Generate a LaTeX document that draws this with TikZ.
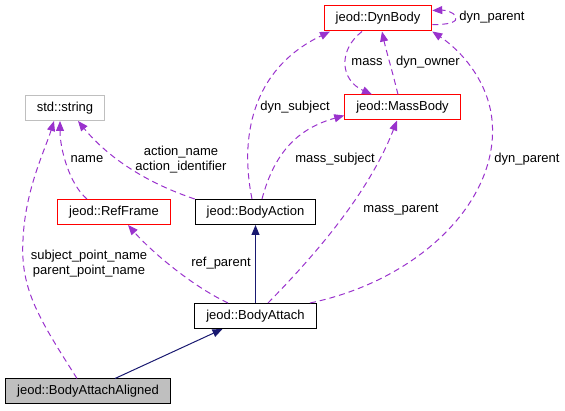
\documentclass[tikz,border=0pt]{standalone}
\usepackage{fontspec}
\setmainfont{Liberation Sans}
\usetikzlibrary{arrows.meta, positioning}
\definecolor{edgepurple}{HTML}{9A32CD}
\definecolor{edgenavy}{HTML}{191970}
\definecolor{boxgray}{HTML}{BFBFBF}
\tikzset{
    cls/.style={
        rectangle, draw=black, line width=1pt,
        minimum height=25pt, inner xsep=11.5pt, inner ysep=0pt,
        text height=9.5pt, text depth=2.5pt,
        font=\fontsize{13}{15}\selectfont
    },
    clsred/.style={cls, draw=red},
    clsgray/.style={cls, draw=boxgray},
    clsfocus/.style={cls, fill=boxgray},
    lbl/.style={inner sep=0pt, align=center, font=\fontsize{13}{15}\selectfont},
    usage/.style={-{Triangle[length=10pt,width=8pt]}, edgepurple, line width=1pt,
        dash pattern=on 6pt off 4pt},
    inherit/.style={-{Triangle[length=10pt,width=8pt]}, edgenavy, line width=1pt}
}
\begin{document}
\begin{tikzpicture}[x=1pt, y=-1pt]
    \useasboundingbox (0,0) rectangle (565,411);

    % Classes
    \node[clsred]   (dyn)  at (378,18.5)  {jeod::DynBody};
    \node[clsred]   (mass) at (402.5,107.5) {jeod::MassBody};
    \node[clsgray]  (str)  at (65,108)    {std::string};
    \node[clsred]   (rf)   at (114,212)   {jeod::RefFrame};
    \node[cls]      (act)  at (255.5,212) {jeod::BodyAction};
    \node[cls]      (att)  at (255.5,316) {jeod::BodyAttach};
    \node[clsfocus] (aln)  at (88,391.5)  {jeod::BodyAttachAligned};

    % Inheritance
    \draw[inherit] (att.north) -- (act.south);
    \draw[inherit] ([xshift=27pt]aln.north) -- ([xshift=-33pt]att.south);

    % Members
    \draw[usage] ([xshift=-27pt]rf.north) .. controls (70,185) and (60,150) .. ([xshift=-5pt]str.south);
    \draw[usage] (act.north west) .. controls (150,184) and (110,160) .. ([xshift=13pt]str.south);
    \draw[usage] ([xshift=-11pt]aln.north) .. controls (40,320) and (20,290) .. (23,240)
        .. controls (25,190) and (45,150) .. ([xshift=-11pt]str.south);
    \draw[usage] ([xshift=-27.5pt]att.north) .. controls (190,285) and (150,250) .. ([xshift=14pt]rf.south);
    \draw[usage] ([xshift=-3.5pt]act.north) .. controls (240,140) and (250,70) .. ([xshift=-48pt]dyn.south);
    \draw[usage] ([xshift=6.5pt]act.north) .. controls (275,150) and (300,128) .. ([yshift=-8pt]mass.west);
    \draw[usage] ([yshift=-6pt]dyn.east) .. controls (448,25) and (458,22) .. (456,17)
        .. controls (454,12) and (445,10) .. ([yshift=8pt]dyn.east);
    \draw[usage] ([xshift=-16pt]dyn.south) .. controls (338,50) and (340,80) .. ([xshift=-30.5pt]mass.north);
    \draw[usage] ([xshift=-4.5pt]mass.north) .. controls (392,70) and (386,50) .. ([xshift=4pt]dyn.south);
    \draw[usage] ([xshift=12.5pt]att.north) .. controls (320,250) and (370,190) .. ([xshift=-5.5pt]mass.south);
    \draw[usage] ([xshift=54.5pt]att.north) .. controls (420,280) and (500,200) .. (492,120)
        .. controls (488,80) and (460,50) .. (dyn.south east);

    % Labels
    \node[lbl] (lname)   at (87,159)    {name};
    \node[lbl] (laction) at (181,159.5) {action\_name\\action\_identifier};
    \node[lbl] (lpoint)  at (89,263.5)  {subject\_point\_name\\parent\_point\_name};
    \node[lbl] (lref)    at (221,263)   {ref\_parent};
    \node[lbl] (ldsub)   at (295,107)   {dyn\_subject};
    \node[lbl] (lmsub)   at (335,159)   {mass\_subject};
    \node[lbl] (lmpar)   at (401,210)   {mass\_parent};
    \node[lbl] (ldpar)   at (527,159)   {dyn\_parent};
    \node[lbl] (lself)   at (492,17)    {dyn\_parent};
    \node[lbl] (lmass)   at (367,62)    {mass};
    \node[lbl] (lowner)  at (428,62)    {dyn\_owner};
\end{tikzpicture}
\end{document}
